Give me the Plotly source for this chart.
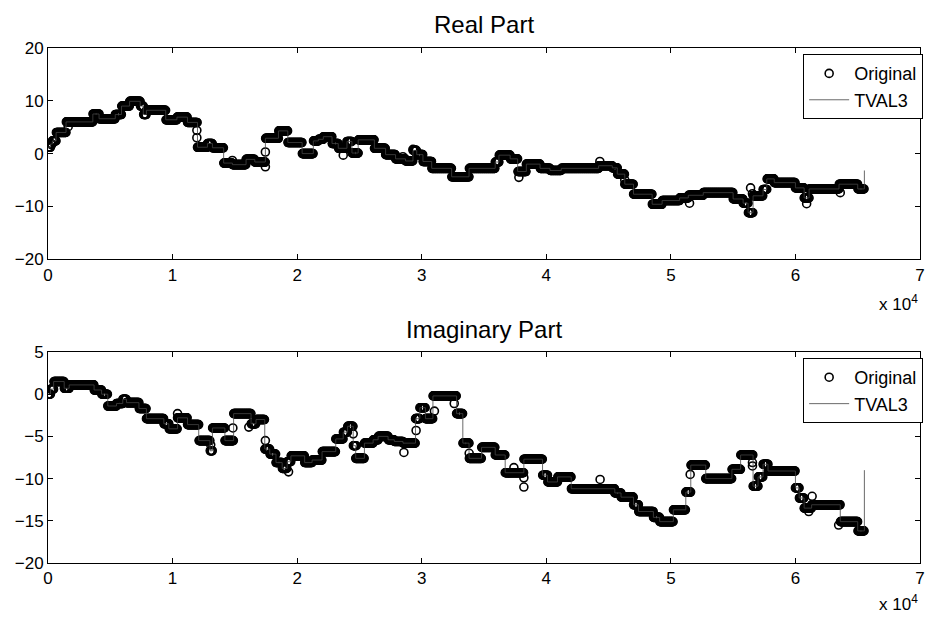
import numpy as np
import plotly.graph_objects as go

N = 65536  # signal length

# ---- Real part: piecewise-constant levels (start index, level) ----
real_breaks = [0, 200, 350, 650, 1450, 3600, 4100, 5400, 5900, 6550, 7400, 7650, 7900,
               9450, 10350, 11200, 12000, 12800, 13200, 14100, 14800, 15900, 16600,
               17450, 18500, 19250, 20400, 21300, 21700, 22100, 22800, 23300, 24000,
               24400, 24900, 26200, 27100, 27900, 28700, 29300, 29600, 30100, 30800,
               32400, 33800, 35900, 36200, 37100, 37700, 38400, 39500, 40300, 41200,
               44200, 45300, 45700, 46300, 47000, 48500, 49300, 50700, 51400, 52600,
               55000, 55800, 56200, 56600, 57400, 57700, 58300, 60000, 60700, 61100,
               63500, 65000]
real_levels = [1.2, 1.8, 2.4, 4.0, 6.0, 7.5, 6.6, 7.4, 9.0, 9.9, 9.0, 7.4, 8.2,
               6.4, 6.9, 5.9, 1.2, 1.9, 1.1, -1.8, -2.1, -1.1, -1.6,
               2.9, 4.3, 2.1, 0.0, 2.4, 2.7, 3.2, 1.9, 1.0, 2.3,
               0.1, 2.6, 1.0, -0.2, -1.0, -1.4, 0.6, -0.2, -1.5, -2.8,
               -4.4, -2.8, -1.6, -0.3, -1.0, -3.4, -2.0, -2.8, -3.2, -2.8,
               -2.3, -2.7, -3.9, -5.8, -7.7, -9.6, -8.9, -8.4, -7.9, -7.4,
               -8.6, -9.4, -11.2, -8.0, -6.8, -4.8, -5.5, -6.5, -8.4, -6.7,
               -5.8, -6.7]
real_tval_end = -3.2
real_odd_x = [1620, 11950, 11950, 14800, 17450, 17450, 23700, 28490, 29300, 37800,
              44300, 46300, 51500, 56400, 56550, 60900, 63600]
real_odd_y = [5.1, 4.4, 3.0, -1.3, 0.3, -2.5, -0.3, -0.6, 0.8, -4.5,
              -1.5, -5.0, -9.4, -6.5, -7.6, -9.5, -7.4]

# ---- Imaginary part ----
imag_breaks = [0, 200, 450, 1300, 1700, 3700, 4300, 4800, 5500, 6000, 6300, 7300, 7900,
               9300, 9700, 10400, 11200, 12100, 13000, 13200, 14200, 14900, 16300,
               16700, 17400, 17800, 18300, 18800, 19200, 19500, 20600, 21200, 22000,
               23100, 23700, 24050, 24500, 24700, 25400, 26100, 26500, 27300, 27800,
               28500, 29500, 29850, 30300, 30900, 32800, 33300, 33800, 34800, 35900,
               36700, 38200, 39700, 40100, 40900, 42000, 45500, 46000, 47000, 47400,
               48600, 49100, 50200, 51200, 51600, 52800, 54900, 55600, 56600, 57000,
               57400, 57800, 60000, 60300, 60700, 61300, 63600, 65000]
imag_levels = [0.0, 0.6, 1.5, 0.7, 1.1, 0.5, 0.0, -1.4, -1.1, -0.6, -1.0, -1.7, -2.9,
               -3.5, -4.1, -2.8, -3.6, -5.5, -6.7, -4.0, -5.5, -2.3, -3.5,
               -3.0, -6.5, -7.1, -8.1, -8.8, -8.0, -7.3, -8.1, -7.8, -6.8,
               -5.3, -4.5, -3.8, -6.1, -7.6, -5.8, -5.4, -5.0, -5.4, -5.6,
               -5.8, -2.9, -1.6, -2.9, -0.2, -2.3, -5.8, -7.6, -6.3, -7.2,
               -9.3, -7.7, -9.6, -10.4, -9.8, -11.2, -11.7, -12.2, -13.1, -13.9,
               -14.6, -15.1, -13.7, -11.6, -8.4, -10.0, -8.9, -7.2, -10.9, -9.8,
               -8.3, -9.1, -11.1, -12.3, -13.5, -13.1, -15.1, -16.2]
imag_tval_end = -9.0
imag_odd_x = [10400, 13060, 14840, 16120, 17450, 17550, 19310, 24500, 24750, 28570,
              29550, 31020, 32610, 33810, 37400, 38200, 38200, 44320, 51550, 56550,
              56550, 61070, 61340, 63470]
imag_odd_y = [-2.3, -6.0, -4.0, -3.9, -5.5, -6.5, -9.2, -4.7, -6.1, -6.9,
              -4.3, -2.0, -1.1, -7.0, -8.7, -9.9, -11.0, -10.1, -9.5, -8.1,
              -8.5, -13.9, -12.1, -15.5]

SAMPLE_STEP = 32
idx = np.arange(0, N, SAMPLE_STEP)


def original_samples(breaks, levels, odd_x, odd_y):
    pos = np.searchsorted(np.asarray(breaks), idx, side="right") - 1
    vals = np.asarray(levels)[pos]
    x = np.concatenate([idx, odd_x])
    y = np.concatenate([vals, odd_y])
    return x, y


FONT = "Liberation Sans, Arial, Helvetica, sans-serif"
fig = go.Figure()

panels = [
    ("x", "y", "legend", real_breaks, real_levels, real_tval_end, real_odd_x, real_odd_y),
    ("x2", "y2", "legend2", imag_breaks, imag_levels, imag_tval_end, imag_odd_x, imag_odd_y),
]
for xa, ya, lg, brk, lev, tend, ox, oy in panels:
    sx, sy = original_samples(brk, lev, ox, oy)
    fig.add_trace(go.Scatter(
        x=sx, y=sy, mode="markers", name="Original", xaxis=xa, yaxis=ya, legend=lg,
        marker=dict(symbol="circle-open", size=8, color="black", line=dict(width=1.6)),
    ))
    fig.add_trace(go.Scatter(
        x=list(brk) + [N - 1], y=list(lev) + [tend], mode="lines", name="TVAL3",
        xaxis=xa, yaxis=ya, legend=lg, line=dict(color="#444444", width=0.8, shape="hv"),
    ))

xticks = list(range(0, 70001, 10000))
xtext = [str(v // 10000) for v in xticks]
axis_common = dict(
    showline=True, linecolor="black", linewidth=1, mirror="ticks",
    ticks="inside", ticklen=5, tickcolor="black", tickwidth=1,
    showgrid=False, zeroline=False,
    tickfont=dict(family=FONT, size=17, color="black"),
)

legend_common = dict(
    xanchor="left", yanchor="top", bordercolor="black", borderwidth=1,
    bgcolor="white", itemwidth=40, tracegroupgap=0,
    font=dict(family=FONT, size=18, color="black"),
)

fig.update_layout(
    width=930, height=617,
    margin=dict(l=48, r=5, t=48, b=54),
    paper_bgcolor="white", plot_bgcolor="white",
    font=dict(family=FONT, color="black"),
    xaxis=dict(domain=[0, 1], range=[0, 70000], tickvals=xticks, ticktext=xtext,
               anchor="y", **axis_common),
    yaxis=dict(domain=[0.590, 1.0], range=[-20, 20], dtick=10, anchor="x", **axis_common),
    xaxis2=dict(domain=[0, 1], range=[0, 70000], tickvals=xticks, ticktext=xtext,
                anchor="y2", **axis_common),
    yaxis2=dict(domain=[0.0, 0.4097], range=[-20, 5], dtick=5, anchor="x2", **axis_common),
    legend=dict(x=0.866, y=0.988, **legend_common),
    legend2=dict(x=0.866, y=0.398, **legend_common),
    showlegend=True,
    annotations=[
        dict(text="Real Part", x=0.5, y=1.0466, xref="paper", yref="paper",
             xanchor="center", yanchor="middle", showarrow=False,
             font=dict(family=FONT, size=24, color="black")),
        dict(text="Imaginary Part", x=0.5, y=0.454, xref="paper", yref="paper",
             xanchor="center", yanchor="middle", showarrow=False,
             font=dict(family=FONT, size=24, color="black")),
        dict(text="x 10<sup>4</sup>", x=1.0, y=0.505, xref="paper", yref="paper",
             xanchor="right", yanchor="middle", showarrow=False,
             font=dict(family=FONT, size=17, color="black")),
        dict(text="x 10<sup>4</sup>", x=1.0, y=-0.078, xref="paper", yref="paper",
             xanchor="right", yanchor="middle", showarrow=False,
             font=dict(family=FONT, size=17, color="black")),
    ],
)

fig.write_html("out.html")
